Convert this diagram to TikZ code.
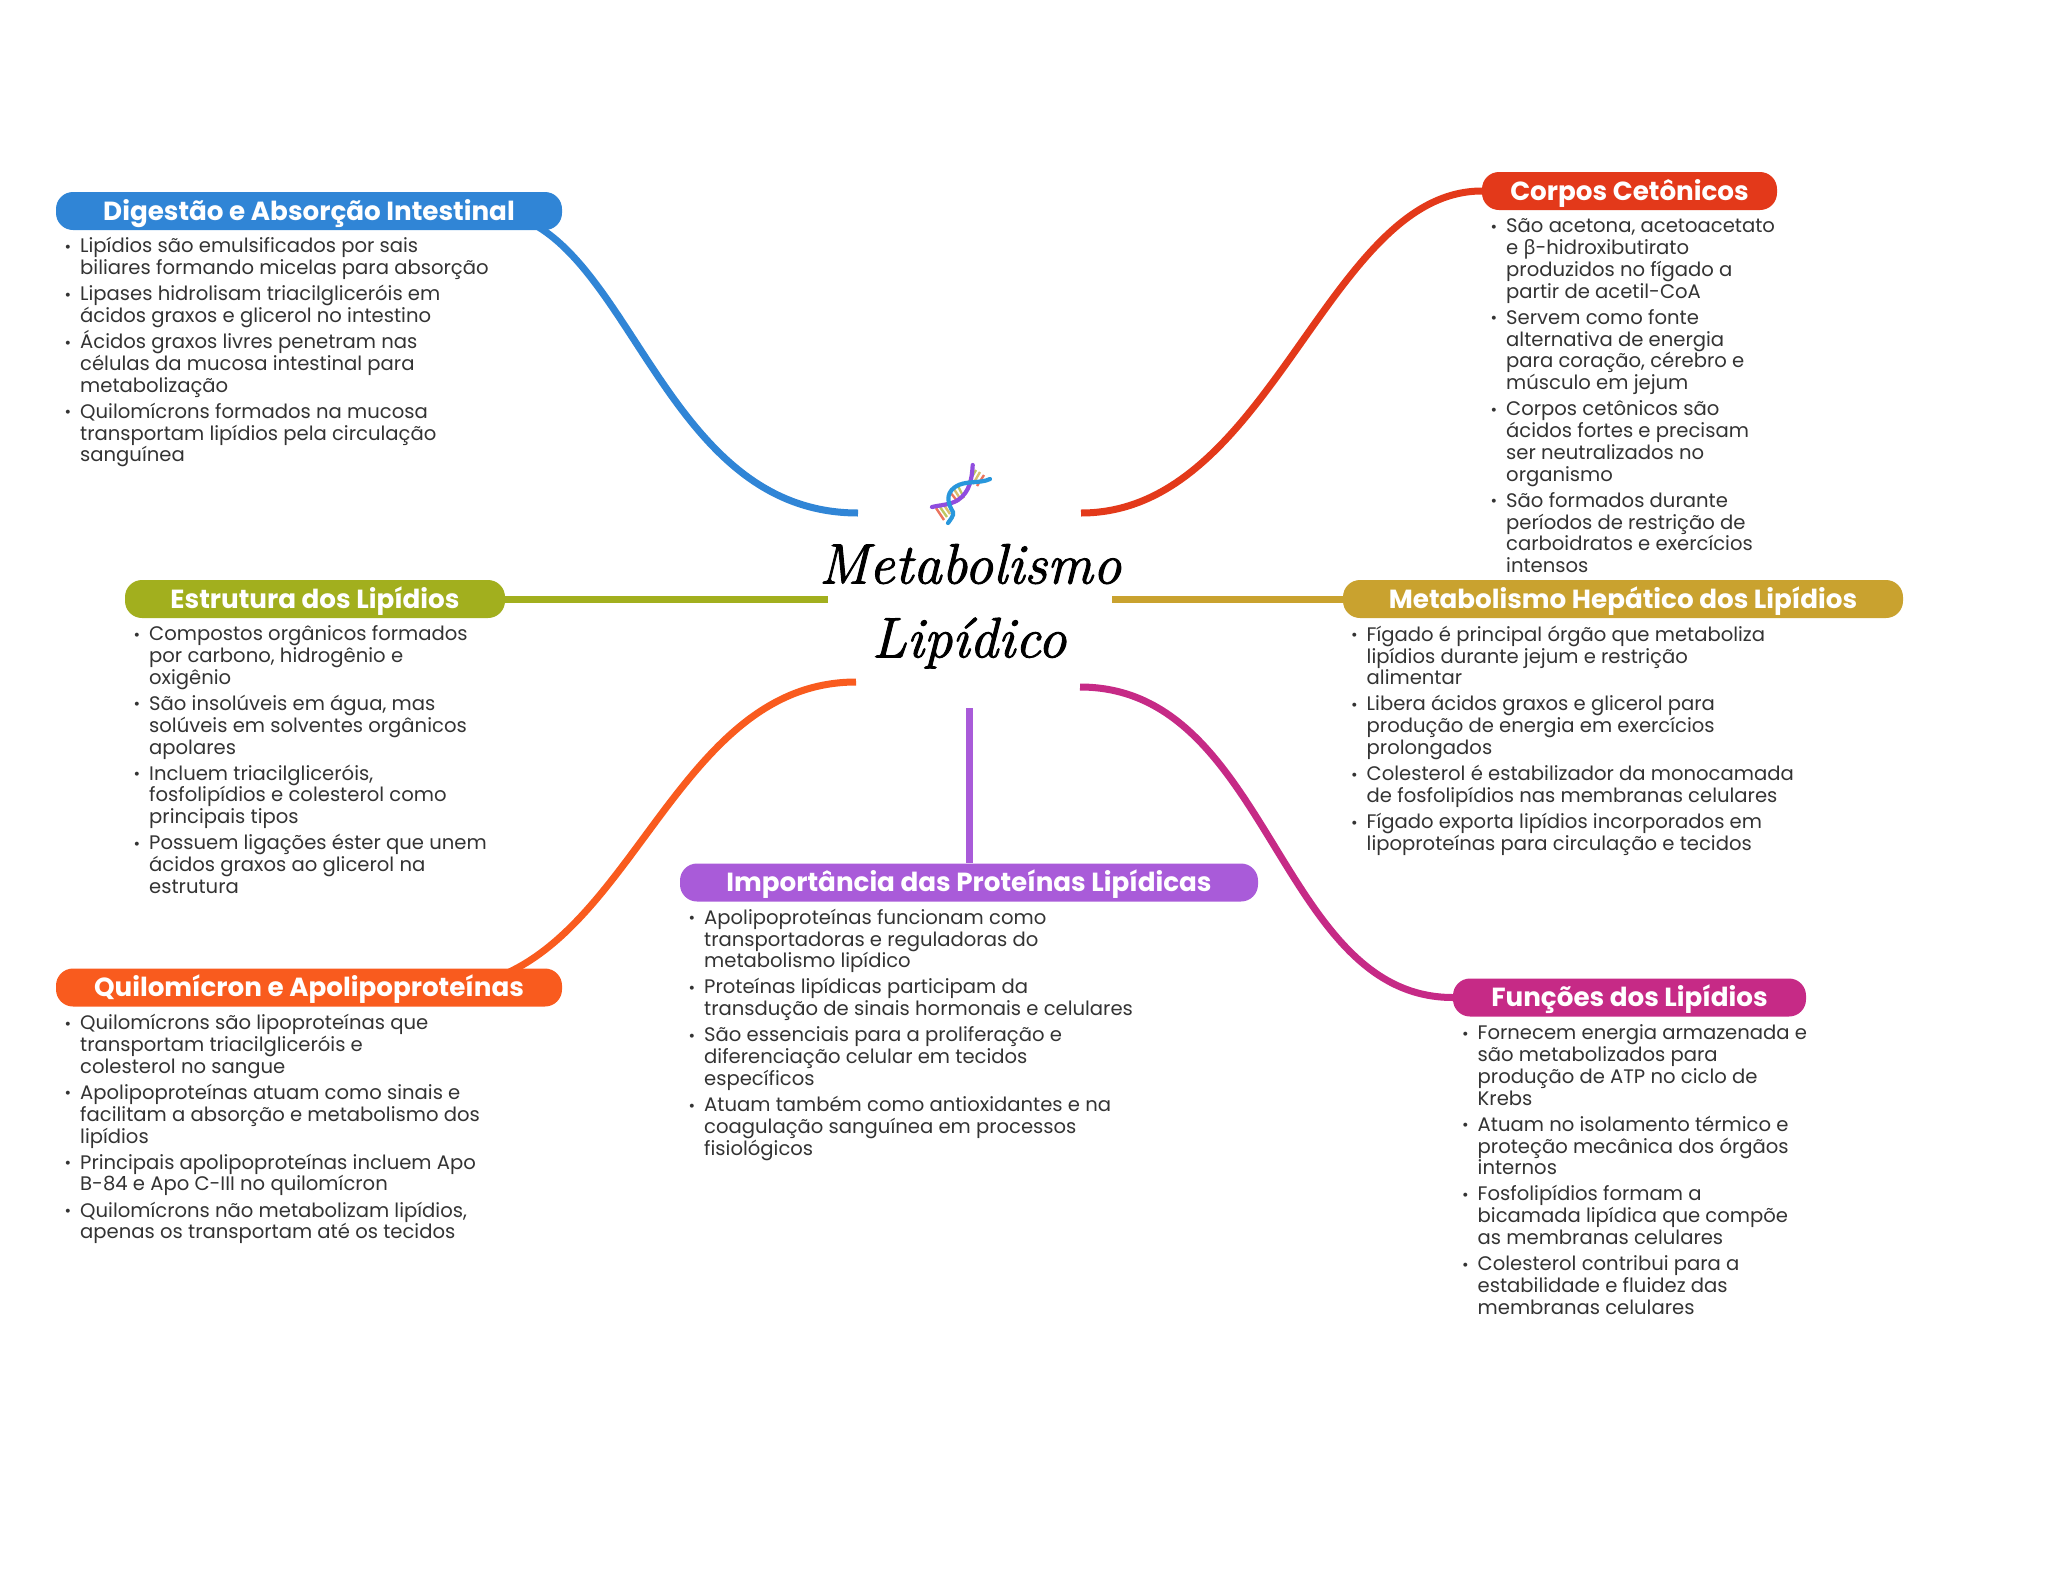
\documentclass[tikz,border=0pt]{standalone}
\usepackage{fontspec}
\setmainfont{Poppins}
\newfontfamily\grk{Noto Sans}
\newfontfamily\ttlfont{Latin Modern Roman}[ItalicFeatures={FakeBold=1.6}]
\usetikzlibrary{backgrounds}
\definecolor{cblue}{HTML}{3085D6}
\definecolor{cred}{HTML}{E3391A}
\definecolor{colive}{HTML}{A2AF1E}
\definecolor{cgold}{HTML}{C9A22F}
\definecolor{corange}{HTML}{F95B1E}
\definecolor{cpurple}{HTML}{A95BD9}
\definecolor{cmag}{HTML}{C62A86}
\definecolor{ctext}{HTML}{333333}
\lineskiplimit=-100pt
\newcommand{\bul}{\rule{0pt}{21pt}\makebox[0pt][r]{\raisebox{0.5pt}{\fontsize{16}{16}\selectfont •}\hspace{9pt}}}
\newcommand{\hd}[1]{\raisebox{-9.2pt}[0pt][0pt]{#1}}
\tikzset{
  head/.style={rounded corners=17pt,minimum height=38pt,inner sep=0pt,text=white,anchor=center,
    font=\fontsize{26.2}{30}\selectfont\bfseries},
  bodytext/.style={anchor=north west,inner sep=0pt,align=left,text=ctext,
    font=\fontsize{19.6}{21.8}\selectfont},
  link/.style={line width=7pt},
  ttl/.style={inner sep=0pt,text=black,font=\fontsize{57}{70}\selectfont\ttlfont\itshape},
  strand/.style={line width=4.2pt,line cap=round},
  rung/.style={line width=2.4pt,opacity=.7}
}
\begin{document}
\begin{tikzpicture}[x=1pt,y=-1pt]
\useasboundingbox (0,0) rectangle (2048,1569);
% headers
\node[head,fill=cblue,minimum width=506pt] (nD) at (309,211) {\hd{Digestão e Absorção Intestinal}};
\node[head,fill=cred,minimum width=295pt] (nC) at (1629.5,191) {\hd{Corpos Cetônicos}};
\node[head,fill=colive,minimum width=380pt] (nE) at (315,599) {\hd{Estrutura dos Lipídios}};
\node[head,fill=cgold,minimum width=560pt] (nH) at (1623,599) {\hd{Metabolismo Hepático dos Lipídios}};
\node[head,fill=corange,minimum width=506pt] (nQ) at (309,987.5) {\hd{Quilomícron e Apolipoproteínas}};
\node[head,fill=cpurple,minimum width=578pt] (nI) at (969,882.5) {\hd{Importância das Proteínas Lipídicas}};
\node[head,fill=cmag,minimum width=353pt] (nF) at (1629.5,997.5) {\hd{Funções dos Lipídios}};
% centre
\node[ttl] (t1) at (970,564) {Metabolismo};
\node[ttl] (t2) at (969,643) {Lipídico};
\coordinate (cD) at (858,513);
\coordinate (cC) at (1081,513);
\coordinate (cE) at (828,599);
\coordinate (cH) at (1112,599);
\coordinate (cQ) at (856,682);
\coordinate (cI) at (969,708);
\coordinate (cF) at (1080,687);
\begin{scope}[on background layer]
\draw[link,cblue] (nD.center) ++(175,0) coordinate (sD) (sD) .. controls +(145,0) and +(-205,0) .. (cD);
\draw[link,cred] (cC) .. controls +(190,0) and +(-155,0) .. (nC.west);
\draw[link,colive] (nE.east) -- (cE);
\draw[link,cgold] (cH) -- (nH.west);
\draw[link,corange] (nQ.center) ++(140,0) coordinate (sQ) (sQ) .. controls +(180,-10) and +(-190,0) .. (cQ);
\draw[link,cpurple] (cI) -- (nI.north);
\draw[link,cmag] (cF) .. controls +(190,0) and +(-175,0) .. (nF.west);
\end{scope}
% DNA icon
\begin{scope}
\foreach \p/\q/\r/\s/\c in {
 976/470/969/482/colive,980/472/973/484/cgold,984/475/977/486/cred,
 958/486/964/498/colive,954/489/961/500/cgold,950/492/958/502/cred,
 936/508/944/520/cred,940/507/947/517/colive,944/505/950/514/cgold}{
 \draw[rung,\c] (\p,\q) -- (\r,\s);}
\draw[strand,cpurple!85!blue] (972.7,465) .. controls (972,478) and (970,492) .. (958,500) .. controls (950,505) and (940,505) .. (932,507);
\draw[strand,cblue!85!cyan] (990,479) .. controls (980,484) and (965,480) .. (955,487) .. controls (945,494) and (948,504) .. (953,512) .. controls (954,516) and (950,520) .. (948,523);
\end{scope}
% bodies
\node[bodytext] (bD) at (80,231.5) {\bul Lipídios são emulsificados por sais\\
biliares formando micelas para absorção\\[4.3pt]
\bul Lipases hidrolisam triacilgliceróis em\\
ácidos graxos e glicerol no intestino\\[4.3pt]
\bul Ácidos graxos livres penetram nas\\
células da mucosa intestinal para\\
metabolização\\[4.3pt]
\bul Quilomícrons formados na mucosa\\
transportam lipídios pela circulação\\
sanguínea};
\node[bodytext] (bC) at (1506,211.5) {\bul São acetona, acetoacetato\\
e {\grk β}-hidroxibutirato\\
produzidos no fígado a\\
partir de acetil-CoA\\[4.3pt]
\bul Servem como fonte\\
alternativa de energia\\
para coração, cérebro e\\
músculo em jejum\\[4.3pt]
\bul Corpos cetônicos são\\
ácidos fortes e precisam\\
ser neutralizados no\\
organismo\\[4.3pt]
\bul São formados durante\\
períodos de restrição de\\
carboidratos e exercícios\\
intensos};
\node[bodytext] (bE) at (149,619.5) {\bul Compostos orgânicos formados\\
por carbono, hidrogênio e\\
oxigênio\\[4.3pt]
\bul São insolúveis em água, mas\\
solúveis em solventes orgânicos\\
apolares\\[4.3pt]
\bul Incluem triacilgliceróis,\\
fosfolipídios e colesterol como\\
principais tipos\\[4.3pt]
\bul Possuem ligações éster que unem\\
ácidos graxos ao glicerol na\\
estrutura};
\node[bodytext] (bH) at (1366.5,620) {\bul Fígado é principal órgão que metaboliza\\
lipídios durante jejum e restrição\\
alimentar\\[4.3pt]
\bul Libera ácidos graxos e glicerol para\\
produção de energia em exercícios\\
prolongados\\[4.3pt]
\bul Colesterol é estabilizador da monocamada\\
de fosfolipídios nas membranas celulares\\[4.3pt]
\bul Fígado exporta lipídios incorporados em\\
lipoproteínas para circulação e tecidos};
\node[bodytext] (bQ) at (80,1008.5) {\bul Quilomícrons são lipoproteínas que\\
transportam triacilgliceróis e\\
colesterol no sangue\\[4.3pt]
\bul Apolipoproteínas atuam como sinais e\\
facilitam a absorção e metabolismo dos\\
lipídios\\[4.3pt]
\bul Principais apolipoproteínas incluem Apo\\
B-84 e Apo C-III no quilomícron\\[4.3pt]
\bul Quilomícrons não metabolizam lipídios,\\
apenas os transportam até os tecidos};
\node[bodytext] (bI) at (704,903) {\bul Apolipoproteínas funcionam como\\
transportadoras e reguladoras do\\
metabolismo lipídico\\[4.3pt]
\bul Proteínas lipídicas participam da\\
transdução de sinais hormonais e celulares\\[4.3pt]
\bul São essenciais para a proliferação e\\
diferenciação celular em tecidos\\
específicos\\[4.3pt]
\bul Atuam também como antioxidantes e na\\
coagulação sanguínea em processos\\
fisiológicos};
\node[bodytext] (bF) at (1477.5,1018.5) {\bul Fornecem energia armazenada e\\
são metabolizados para\\
produção de ATP no ciclo de\\
Krebs\\[4.3pt]
\bul Atuam no isolamento térmico e\\
proteção mecânica dos órgãos\\
internos\\[4.3pt]
\bul Fosfolipídios formam a\\
bicamada lipídica que compõe\\
as membranas celulares\\[4.3pt]
\bul Colesterol contribui para a\\
estabilidade e fluidez das\\
membranas celulares};
\end{tikzpicture}
\end{document}
